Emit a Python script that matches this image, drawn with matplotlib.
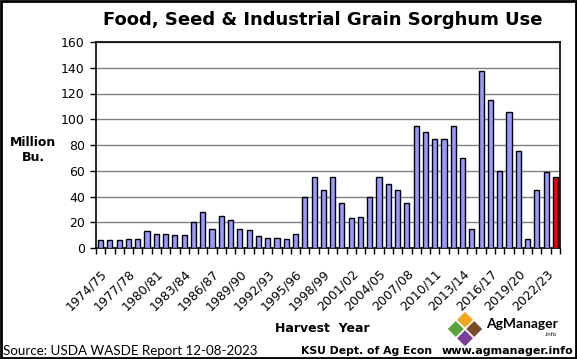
import matplotlib

matplotlib.use("Agg")
import matplotlib.pyplot as plt
import numpy as np
from matplotlib.patches import Polygon, Rectangle

# Harvest years 1974/75 .. 2023/24
start_years = list(range(1974, 2024))
year_labels = [f"{y}/{str(y + 1)[-2:]}" for y in start_years]
fsi_use = [
    6.5, 6.5, 6.5, 7, 7, 13, 11, 11, 10, 10,
    20, 28, 15, 25, 22, 15, 14, 9, 8, 8,
    7, 11, 40, 55, 45, 55, 35, 23, 24, 40,
    55, 50, 45, 35, 95, 90, 85, 85, 95, 70,
    15, 137.5, 115, 60, 106, 75, 7, 45, 59, 55,
]
y_ticks = [0, 20, 40, 60, 80, 100, 120, 140, 160]

W, H = 577, 359
fig = plt.figure(figsize=(W / 100, H / 100), dpi=100)
fig.patch.set_facecolor("white")

ax = fig.add_axes([96 / W, (H - 248) / H, (560 - 96) / W, (248 - 42) / H])
x = np.arange(len(fsi_use))
colors = ["#9999ff"] * (len(fsi_use) - 1) + ["#ff0000"]
ax.bar(x, fsi_use, width=0.55, color=colors, edgecolor="black", linewidth=1.0, zorder=3)

ax.set_xlim(-0.5, len(fsi_use) - 0.5)
ax.set_ylim(0, 160)
ax.set_yticks(y_ticks)
ax.set_yticklabels([str(v) for v in y_ticks], fontsize=9)
ax.yaxis.grid(True, color="#808080", linewidth=1.0, zorder=0)
ax.tick_params(axis="y", length=4, width=1, direction="out", pad=4)

ax.set_xticks(x[::3])
ax.set_xticklabels(year_labels[::3], rotation=45, ha="right", rotation_mode="anchor", fontsize=9)
ax.set_xticks(np.arange(-0.5, len(fsi_use), 1), minor=True)
ax.tick_params(axis="x", which="major", length=0, pad=14)
ax.tick_params(axis="x", which="minor", length=4, width=1, direction="out")
for side in ax.spines.values():
    side.set_linewidth(1.2)
    side.set_color("black")

fig.text(323 / W, 1 - 20 / H, "Food, Seed & Industrial Grain Sorghum Use",
         ha="center", va="center", fontsize=13, fontweight="bold")
fig.text(33 / W, 1 - 150 / H, "Million\nBu.", ha="center", va="center",
         fontsize=9, fontweight="bold", linespacing=1.2)
fig.text(322 / W, 1 - 328 / H, "Harvest  Year", ha="center", va="center",
         fontsize=9, fontweight="bold")
fig.text(3 / W, 1 - 351 / H, "Source: USDA WASDE Report 12-08-2023", ha="left", va="center",
         fontsize=9.6, family=["Lato", "DejaVu Sans"])
fig.text(367 / W, 1 - 351 / H, "KSU Dept. of Ag Econ", ha="center", va="center",
         fontsize=7.8, fontweight="bold")
fig.text(573 / W, 1 - 351 / H, "www.agmanager.info", ha="right", va="center",
         fontsize=8, fontweight="bold")

# AgManager logo: four small diamonds plus the name
cx, cy, r = 465, 329, 9.2
logo = [((0, -1), "#f2a51f"), ((1, 0), "#7b4a26"), ((0, 1), "#7a3f98"), ((-1, 0), "#5aa33a")]
for (dx, dy), col in logo:
    px, py = cx + dx * r, cy + dy * r
    pts = [(px, py - r * 0.95), (px + r * 0.95, py), (px, py + r * 0.95), (px - r * 0.95, py)]
    fig.patches.append(Polygon([(u / W, 1 - v / H) for u, v in pts], closed=True,
                               facecolor=col, edgecolor="white", linewidth=0.8,
                               transform=fig.transFigure, figure=fig))
fig.text(486 / W, 1 - 324 / H, "AgManager", ha="left", va="center",
         fontsize=10, fontweight="bold", family=["Lato", "DejaVu Sans"])
fig.text(557 / W, 1 - 334 / H, ".info", ha="right", va="center", fontsize=4)

fig.patches.append(Rectangle((0.001, 0.002), 0.997, 0.995, fill=False, edgecolor="black",
                             linewidth=2, transform=fig.transFigure, figure=fig))

fig.savefig("out.png", dpi=100)
